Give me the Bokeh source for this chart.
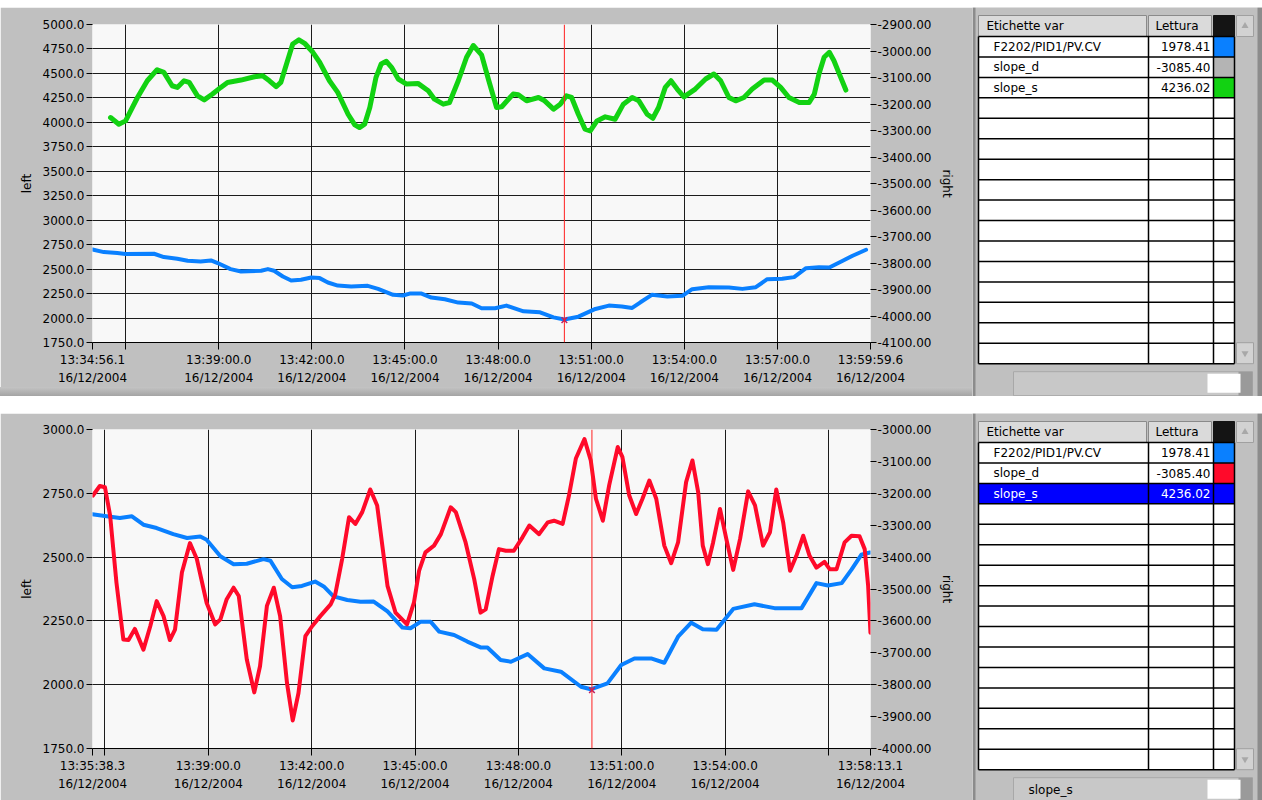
import pandas as pd
from bokeh.plotting import figure
from bokeh.layouts import column, row
from bokeh.models import (Range1d, LinearAxis, DatetimeAxis, FixedTicker,
                          NumeralTickFormatter, Span, Spacer)
from bokeh.core.properties import value
from bokeh.embed import file_html
from bokeh.resources import INLINE

# ---------------------------------------------------------------- data
DATE = "2004-12-16"

# top graph -----------------------------------------------------------
top_range = ("13:34:56.1", "13:59:59.6")
top_tick_times = ["13:34:56.1", "13:36:00.0", "13:39:00.0", "13:42:00.0", "13:45:00.0",
                  "13:48:00.0", "13:51:00.0", "13:54:00.0", "13:57:00.0", "13:59:59.6"]
top_time_labels = ["13:34:56.1", "", "13:39:00.0", "13:42:00.0", "13:45:00.0",
                   "13:48:00.0", "13:51:00.0", "13:54:00.0", "13:57:00.0", "13:59:59.6"]
top_date_labels = ["16/12/2004", "", "16/12/2004", "16/12/2004", "16/12/2004",
                   "16/12/2004", "16/12/2004", "16/12/2004", "16/12/2004", "16/12/2004"]
top_left_ticks = [1750, 2000, 2250, 2500, 2750, 3000, 3250, 3500, 3750, 4000, 4250, 4500, 4750, 5000]
top_right_ticks = [-4100, -4000, -3900, -3800, -3700, -3600, -3500, -3400, -3300, -3200, -3100, -3000, -2900]

# F2202/PID1/PV.CV  (left axis)
top_pv = [
    ("13:34:56", 2700), ("13:35:18", 2674), ("13:35:44", 2664), ("13:36:00", 2654), ("13:36:55", 2657),
    ("13:37:14", 2623), ("13:37:40", 2606), ("13:38:00", 2585), ("13:38:25", 2579), ("13:38:45", 2589),
    ("13:38:58", 2562), ("13:39:23", 2500), ("13:39:43", 2476), ("13:40:22", 2483), ("13:40:35", 2500),
    ("13:40:47", 2483), ("13:41:04", 2425), ("13:41:20", 2384), ("13:41:39", 2391), ("13:41:59", 2415),
    ("13:42:15", 2408), ("13:42:31", 2363), ("13:42:50", 2332), ("13:43:16", 2322), ("13:43:48", 2329),
    ("13:44:08", 2298), ("13:44:37", 2237), ("13:44:56", 2230), ("13:45:09", 2250), ("13:45:32", 2250),
    ("13:45:51", 2209), ("13:46:17", 2192), ("13:46:43", 2158), ("13:47:09", 2148), ("13:47:28", 2100),
    ("13:47:54", 2100), ("13:48:16", 2127), ("13:48:49", 2069), ("13:49:21", 2059), ("13:49:47", 2007),
    ("13:50:08", 1985), ("13:50:35", 2014), ("13:51:08", 2093), ("13:51:34", 2127), ("13:51:59", 2117),
    ("13:52:19", 2103), ("13:52:35", 2161), ("13:52:57", 2237), ("13:53:27", 2220), ("13:53:56", 2227),
    ("13:54:15", 2295), ("13:54:47", 2315), ("13:55:26", 2312), ("13:55:52", 2298), ("13:56:18", 2315),
    ("13:56:40", 2397), ("13:57:09", 2401), ("13:57:32", 2418), ("13:57:55", 2510), ("13:58:20", 2520),
    ("13:58:40", 2517), ("13:59:06", 2585), ("13:59:25", 2637), ("13:59:51", 2698),
]

# slope_s  (left axis)
top_slope_s = [
    ("13:35:31", 4049), ("13:35:47", 3981), ("13:36:00", 4015), ("13:36:23", 4254), ("13:36:42", 4425),
    ("13:37:01", 4538), ("13:37:14", 4511), ("13:37:30", 4374), ("13:37:40", 4357), ("13:37:53", 4425),
    ("13:38:03", 4408), ("13:38:19", 4271), ("13:38:32", 4230), ("13:38:48", 4289), ("13:39:04", 4357),
    ("13:39:17", 4408), ("13:39:43", 4432), ("13:40:09", 4466), ("13:40:25", 4477), ("13:40:38", 4425),
    ("13:40:51", 4364), ("13:41:00", 4408), ("13:41:10", 4579), ("13:41:23", 4801), ("13:41:35", 4843),
    ("13:41:46", 4808), ("13:42:02", 4716), ("13:42:15", 4614), ("13:42:34", 4425), ("13:42:50", 4306),
    ("13:43:10", 4083), ("13:43:23", 3974), ("13:43:32", 3947), ("13:43:42", 3981), ("13:43:52", 4152),
    ("13:44:04", 4460), ("13:44:14", 4596), ("13:44:24", 4624), ("13:44:34", 4562), ("13:44:47", 4443),
    ("13:45:03", 4391), ("13:45:25", 4398), ("13:45:45", 4323), ("13:45:57", 4237), ("13:46:14", 4186),
    ("13:46:26", 4203), ("13:46:43", 4425), ("13:46:59", 4665), ("13:47:12", 4785), ("13:47:28", 4690),
    ("13:47:42", 4425), ("13:47:57", 4152), ("13:48:07", 4159), ("13:48:29", 4289), ("13:48:39", 4282),
    ("13:48:55", 4220), ("13:49:18", 4254), ("13:49:30", 4220), ("13:49:47", 4135), ("13:50:00", 4186),
    ("13:50:12", 4271), ("13:50:22", 4254), ("13:50:35", 4083), ("13:50:48", 3930), ("13:50:58", 3913),
    ("13:51:11", 4015), ("13:51:27", 4056), ("13:51:46", 4032), ("13:52:02", 4186), ("13:52:19", 4254),
    ("13:52:32", 4220), ("13:52:48", 4083), ("13:52:59", 4042), ("13:53:10", 4152), ("13:53:23", 4357),
    ("13:53:34", 4425), ("13:53:46", 4340), ("13:53:59", 4261), ("13:54:21", 4340), ("13:54:41", 4443),
    ("13:54:57", 4494), ("13:55:10", 4425), ("13:55:26", 4254), ("13:55:39", 4220), ("13:55:55", 4254),
    ("13:56:11", 4340), ("13:56:34", 4432), ("13:56:50", 4432), ("13:57:06", 4357), ("13:57:22", 4254),
    ("13:57:42", 4203), ("13:58:01", 4203), ("13:58:11", 4289), ("13:58:20", 4494), ("13:58:30", 4665),
    ("13:58:40", 4716), ("13:58:49", 4630), ("13:59:02", 4460), ("13:59:12", 4330),
]

# bottom graph --------------------------------------------------------
bot_range = ("13:35:38.3", "13:58:13.1")
bot_tick_times = ["13:35:38.3", "13:36:00.0", "13:39:00.0", "13:42:00.0", "13:45:00.0",
                  "13:48:00.0", "13:51:00.0", "13:54:00.0", "13:57:00.0", "13:58:13.1"]
bot_time_labels = ["13:35:38.3", "", "13:39:00.0", "13:42:00.0", "13:45:00.0",
                   "13:48:00.0", "13:51:00.0", "13:54:00.0", "", "13:58:13.1"]
bot_date_labels = ["16/12/2004", "", "16/12/2004", "16/12/2004", "16/12/2004",
                   "16/12/2004", "16/12/2004", "16/12/2004", "", "16/12/2004"]
bot_left_ticks = [1750, 2000, 2250, 2500, 2750, 3000]
bot_right_ticks = [-4000, -3900, -3800, -3700, -3600, -3500, -3400, -3300, -3200, -3100, -3000]

bot_pv = [
    ("13:35:38", 2668), ("13:35:44", 2666), ("13:36:03", 2660), ("13:36:26", 2653), ("13:36:47", 2660),
    ("13:37:07", 2627), ("13:37:30", 2614), ("13:37:59", 2590), ("13:38:23", 2575), ("13:38:46", 2581),
    ("13:38:57", 2568), ("13:39:21", 2503), ("13:39:44", 2472), ("13:40:07", 2474), ("13:40:36", 2492),
    ("13:40:48", 2486), ("13:41:08", 2414), ("13:41:26", 2382), ("13:41:43", 2387), ("13:42:06", 2404),
    ("13:42:21", 2385), ("13:42:38", 2346), ("13:43:02", 2332), ("13:43:25", 2325), ("13:43:48", 2326),
    ("13:44:12", 2287), ("13:44:38", 2224), ("13:44:52", 2221), ("13:45:10", 2247), ("13:45:27", 2247),
    ("13:45:42", 2208), ("13:46:08", 2195), ("13:46:31", 2169), ("13:46:54", 2146), ("13:47:06", 2146),
    ("13:47:29", 2097), ("13:47:47", 2090), ("13:48:16", 2120), ("13:48:45", 2064), ("13:49:14", 2051),
    ("13:49:49", 1992), ("13:50:06", 1982), ("13:50:35", 2005), ("13:50:59", 2077), ("13:51:22", 2103),
    ("13:51:51", 2103), ("13:52:14", 2086), ("13:52:38", 2188), ("13:53:01", 2243), ("13:53:21", 2217),
    ("13:53:45", 2215), ("13:54:14", 2297), ("13:54:51", 2315), ("13:55:26", 2300), ("13:56:13", 2300),
    ("13:56:39", 2398), ("13:56:59", 2389), ("13:57:23", 2398), ("13:57:40", 2451), ("13:57:57", 2509),
    ("13:58:12", 2518),
]

# slope_d  (right axis)
bot_slope_d = [
    ("13:35:39", -3207), ("13:35:51", -3177), ("13:36:00", -3181), ("13:36:09", -3270), ("13:36:20", -3480),
    ("13:36:32", -3658), ("13:36:41", -3660), ("13:36:52", -3625), ("13:37:07", -3690), ("13:37:19", -3616),
    ("13:37:30", -3538), ("13:37:42", -3585), ("13:37:53", -3660), ("13:38:02", -3627), ("13:38:14", -3448),
    ("13:38:28", -3356), ("13:38:40", -3406), ("13:38:57", -3543), ("13:39:12", -3611), ("13:39:21", -3595),
    ("13:39:32", -3532), ("13:39:44", -3496), ("13:39:53", -3522), ("13:40:07", -3721), ("13:40:20", -3824),
    ("13:40:30", -3742), ("13:40:42", -3553), ("13:40:54", -3496), ("13:41:05", -3585), ("13:41:17", -3795),
    ("13:41:27", -3912), ("13:41:37", -3826), ("13:41:49", -3648), ("13:42:01", -3616), ("13:42:15", -3585),
    ("13:42:33", -3548), ("13:42:41", -3517), ("13:42:53", -3406), ("13:43:05", -3275), ("13:43:16", -3296),
    ("13:43:28", -3259), ("13:43:42", -3188), ("13:43:54", -3238), ("13:44:12", -3490), ("13:44:26", -3574),
    ("13:44:46", -3611), ("13:44:58", -3543), ("13:45:07", -3443), ("13:45:18", -3385), ("13:45:33", -3364),
    ("13:45:45", -3328), ("13:46:02", -3244), ("13:46:11", -3259), ("13:46:28", -3354), ("13:46:43", -3469),
    ("13:46:54", -3574), ("13:47:03", -3564), ("13:47:15", -3459), ("13:47:26", -3375), ("13:47:38", -3380),
    ("13:47:52", -3380), ("13:48:07", -3338), ("13:48:19", -3301), ("13:48:36", -3328), ("13:48:51", -3291),
    ("13:49:02", -3286), ("13:49:17", -3296), ("13:49:28", -3207), ("13:49:40", -3091), ("13:49:55", -3030),
    ("13:50:06", -3097), ("13:50:15", -3217), ("13:50:27", -3286), ("13:50:38", -3175), ("13:50:53", -3055),
    ("13:51:01", -3086), ("13:51:13", -3207), ("13:51:25", -3265), ("13:51:36", -3217), ("13:51:48", -3160),
    ("13:52:00", -3217), ("13:52:14", -3364), ("13:52:26", -3419), ("13:52:38", -3354), ("13:52:52", -3165),
    ("13:53:03", -3097), ("13:53:13", -3196), ("13:53:21", -3364), ("13:53:30", -3422), ("13:53:39", -3354),
    ("13:53:51", -3249), ("13:54:02", -3343), ("13:54:14", -3440), ("13:54:26", -3343), ("13:54:40", -3194),
    ("13:54:52", -3238), ("13:55:06", -3364), ("13:55:18", -3322), ("13:55:29", -3188), ("13:55:41", -3291),
    ("13:55:53", -3443), ("13:56:04", -3396), ("13:56:16", -3333), ("13:56:27", -3396), ("13:56:39", -3433),
    ("13:56:53", -3415), ("13:57:02", -3438), ("13:57:14", -3438), ("13:57:28", -3354), ("13:57:40", -3333),
    ("13:57:54", -3335), ("13:58:03", -3375), ("13:58:09", -3490), ("13:58:13", -3637),
]

cursor_time = "13:50:08"

# legend tables
var_names = ["F2202/PID1/PV.CV", "slope_d", "slope_s"]
var_readings = [1978.41, -3085.40, 4236.02]
header_labels = ["Etichette var", "Lettura"]
empty_rows = 13

# ---------------------------------------------------------------- style
FONT = "DejaVu Sans"
PANEL = "#c0c0c0"
PLOTBG = "#f8f8f8"
BLUE = "#0a80ff"
GREEN = "#12d212"
RED = "#ff0a2a"
GRAYSW = "#b4b4b4"
GRID = "#1c1c1c"


def ts(times):
    return pd.to_datetime([f"{DATE} {t}" for t in times])


def ms(times):
    return [int(t.value // 10**6) for t in ts(times)]


def style_axis(ax):
    ax.major_label_text_font = FONT
    ax.major_label_text_font_size = "12px"
    ax.major_label_text_color = "black"
    ax.axis_label_text_font = FONT
    ax.axis_label_text_font_size = "12px"
    ax.axis_label_text_font_style = "normal"
    ax.axis_label_text_color = "black"
    ax.major_tick_line_color = "black"
    ax.minor_tick_line_color = None


def make_chart(height, xr, left_ticks, right_ticks, tick_times, time_labels, date_labels,
               series, top_border, bottom_border):
    x0, x1 = ms(list(xr))
    p = figure(width=972, height=height, x_axis_type="datetime",
               x_range=Range1d(x0, x1),
               y_range=Range1d(min(left_ticks), max(left_ticks)),
               title=None, toolbar_location=None, output_backend="svg",
               min_border_left=92, min_border_right=102, min_border_top=top_border,
               min_border_bottom=bottom_border,
               border_fill_color=PANEL, background_fill_color=PLOTBG,
               outline_line_color=None)
    p.extra_y_ranges = {"right": Range1d(min(right_ticks), max(right_ticks))}

    tick_ms = ms(tick_times)
    ax = p.xaxis[0]
    ax.ticker = FixedTicker(ticks=tick_ms)
    ax.major_label_overrides = {m: lab for m, lab in zip(tick_ms, time_labels)}
    ax.major_tick_out = 7
    ax.major_tick_in = 0
    ax.major_label_standoff = 3
    ax.axis_line_color = "black"
    style_axis(ax)

    ax2 = DatetimeAxis(ticker=FixedTicker(ticks=tick_ms),
                       major_label_overrides={m: lab for m, lab in zip(tick_ms, date_labels)})
    style_axis(ax2)
    ax2.major_tick_out = 0
    ax2.major_tick_in = 0
    ax2.major_tick_line_color = None
    ax2.axis_line_color = None
    ax2.major_label_standoff = 1
    p.add_layout(ax2, "below")

    ly = p.yaxis[0]
    ly.ticker = FixedTicker(ticks=left_ticks)
    ly.formatter = NumeralTickFormatter(format="0.0")
    ly.axis_label = "left"
    ly.axis_label_standoff = 6
    ly.major_tick_out = 6
    ly.major_tick_in = 0
    ly.major_label_standoff = 2
    ly.axis_line_color = None
    style_axis(ly)

    ry = LinearAxis(y_range_name="right", ticker=FixedTicker(ticks=right_ticks),
                    formatter=NumeralTickFormatter(format="0.00"), axis_label="right")
    style_axis(ry)
    ry.major_tick_out = 6
    ry.major_tick_in = 0
    ry.major_label_standoff = 1
    ry.axis_line_color = None
    ry.axis_label_standoff = 6
    p.add_layout(ry, "right")

    p.ygrid.ticker = FixedTicker(ticks=left_ticks)
    p.ygrid.grid_line_color = GRID
    p.ygrid.grid_line_width = 1
    inner = [t for t in tick_ms[1:-1]]
    p.xgrid.ticker = FixedTicker(ticks=inner)
    p.xgrid.grid_line_color = GRID
    p.xgrid.grid_line_width = 1

    for pts, color, rng, lw in series:
        kw = {} if rng is None else {"y_range_name": rng}
        p.line(x=ts([a for a, _ in pts]), y=[b for _, b in pts], line_color=color,
               line_width=lw, line_join="round", line_cap="round", **kw)

    cur = ms([cursor_time])[0]
    p.add_layout(Span(location=cur, dimension="height", line_color="#ff2020", line_width=1))
    p.scatter(x=ts([cursor_time]), y=[var_readings[0]], marker="x", size=8,
              line_color="#c02060", line_width=1.5)
    return p


def make_table(height, y_top, y_bot, hdr_top, swatches, highlight, bar_text):
    t = figure(width=290, height=height, x_range=Range1d(972, 1262),
               y_range=Range1d(y_bot, y_top), title=None, toolbar_location=None,
               output_backend="svg", min_border=0, x_axis_location=None,
               y_axis_location=None, border_fill_color=PANEL,
               background_fill_color=PANEL, outline_line_color=None)
    t.grid.visible = False
    cols = [978, 1148, 1213, 1234]
    row_h = 20.45
    n_rows = len(var_names) + empty_rows
    hdr_bot = hdr_top + 21
    body_bot = hdr_bot + n_rows * row_h

    # panel separators
    t.quad(left=[972, 1257], right=[975, 1262], top=[y_top] * 2, bottom=[y_bot] * 2,
           fill_color="#8c8c8c", line_color=None)
    # header
    t.quad(left=cols[:2], right=[cols[1] - 2, cols[2] - 2], top=[hdr_top] * 2,
           bottom=[hdr_bot] * 2, fill_color="#dadada", line_color="#8a8a8a")
    t.quad(left=[cols[2]], right=[cols[3]], top=[hdr_top], bottom=[hdr_bot],
           fill_color="#141414", line_color="#141414")
    # body
    t.quad(left=[cols[0]], right=[cols[3]], top=[hdr_bot], bottom=[body_bot],
           fill_color="white", line_color=None)
    tops = [hdr_bot + i * row_h for i in range(len(var_names))]
    if highlight is not None:
        t.quad(left=[cols[0]], right=[cols[3]], top=[tops[highlight]],
               bottom=[tops[highlight] + row_h], fill_color="#0000ff", line_color=None)
    t.quad(left=[cols[2]] * len(swatches), right=[cols[3]] * len(swatches), top=tops,
           bottom=[y + row_h for y in tops], fill_color=swatches, line_color=None)
    ys = [hdr_bot + i * row_h for i in range(n_rows + 1)]
    t.segment(x0=[cols[0]] * len(ys), x1=[cols[3]] * len(ys), y0=ys, y1=ys,
              line_color="black", line_width=1.5)
    t.segment(x0=cols, x1=cols, y0=[hdr_bot] * 4, y1=[body_bot] * 4,
              line_color="black", line_width=1.5)

    # scrollbar
    t.quad(left=[1236, 1236], right=[1253, 1253], top=[hdr_top, body_bot - 21],
           bottom=[hdr_bot, body_bot], fill_color="#d2d2d2", line_color="#a0a0a0")
    t.scatter(x=[1244.5], y=[hdr_top + 10.5], marker="triangle", size=7,
              fill_color="#a8a8a8", line_color=None)
    t.scatter(x=[1244.5], y=[body_bot - 10.5], marker="inverted_triangle", size=7,
              fill_color="#a8a8a8", line_color=None)

    # selector bar below table
    t.quad(left=[1013], right=[1252], top=[body_bot + 8], bottom=[body_bot + 32],
           fill_color="#c8c8c8", line_color="#a8a8a8")
    t.quad(left=[1238], right=[1252], top=[body_bot + 8], bottom=[body_bot + 32],
           fill_color="#9a9a9a", line_color=None)
    t.quad(left=[1207], right=[1240], top=[body_bot + 10], bottom=[body_bot + 29],
           fill_color="white", line_color=None)

    txt = dict(text_font=value(FONT), text_font_size="12px", text_baseline="middle")
    t.text(x=[986, 1155], y=[hdr_top + 10.5] * 2, text=header_labels,
           text_color="black", **txt)
    mids = [y + row_h / 2 for y in tops]
    colors = ["white" if i == highlight else "black" for i in range(len(var_names))]
    t.text(x=[993] * len(var_names), y=mids, text=var_names, text_color=colors, **txt)
    t.text(x=[1210] * len(var_names), y=mids, text=[f"{v:.2f}" for v in var_readings],
           text_color=colors, text_align="right", **txt)
    if bar_text:
        t.text(x=[1028], y=[body_bot + 20], text=[bar_text], text_color="black", **txt)
    return t


top_chart = make_chart(380, top_range, top_left_ticks, top_right_ticks, top_tick_times,
                       top_time_labels, top_date_labels,
                       [(top_pv, BLUE, None, 4), (top_slope_s, GREEN, None, 5)], 17, 45)
bot_chart = make_chart(387, bot_range, bot_left_ticks, bot_right_ticks, bot_tick_times,
                       bot_time_labels, bot_date_labels,
                       [(bot_pv, BLUE, None, 4), (bot_slope_d, RED, "right", 4)], 16, 52)

top_table = make_table(389, 7, 396, 15, [BLUE, GRAYSW, GREEN], None, "")
bot_table = make_table(387, 413, 800, 421, [BLUE, RED, "#0000ff"], 2, "slope_s")

top_white = Spacer(width=1262, height=7)
strip = Spacer(width=972, height=9,
               styles={"background": "linear-gradient(#c4c4c4, #a4a4a4)"})
gap = Spacer(width=1262, height=17)

layout = column(top_white,
                row(column(top_chart, strip, spacing=0), top_table, spacing=0),
                gap,
                row(column(bot_chart, spacing=0), bot_table, spacing=0), spacing=0)

open("out.html", "w").write(file_html(layout, INLINE))
